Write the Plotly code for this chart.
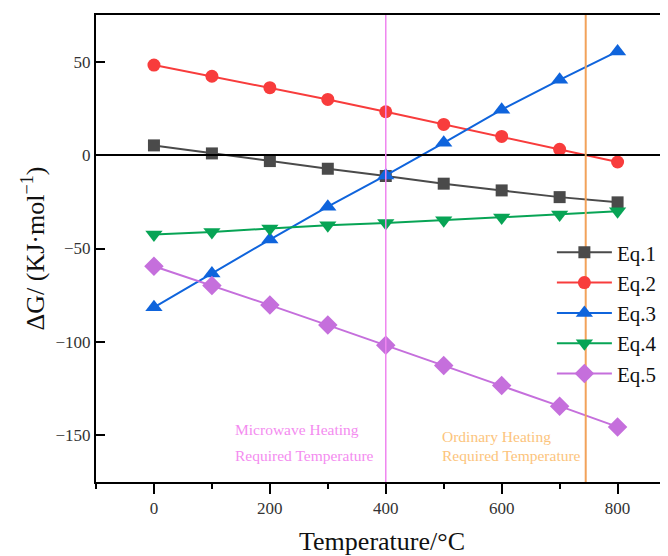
import plotly.graph_objects as go

temps = [0, 100, 200, 300, 400, 500, 600, 700, 800]
eq1 = [5.2, 0.9, -3.2, -7.3, -11.2, -15.3, -18.9, -22.5, -25.3]
eq2 = [48.2, 42.2, 36.1, 29.8, 23.2, 16.4, 10.0, 3.1, -3.7]
eq3 = [-81.5, -63.4, -45.2, -27.6, -10.9, 6.6, 24.3, 40.3, 55.5]
eq4 = [-42.5, -41.2, -39.3, -37.6, -36.4, -34.9, -33.4, -31.8, -30.1]
eq5 = [-59.5, -69.8, -80.3, -91.0, -101.8, -112.6, -123.4, -134.4, -145.5]

names = ["Eq.1", "Eq.2", "Eq.3", "Eq.4", "Eq.5"]
series = [eq1, eq2, eq3, eq4, eq5]
colors = ["#4a4a4a", "#f83c3c", "#0f64dc", "#07a455", "#c56fdc"]
symbols = ["square", "circle", "triangle-up", "triangle-down", "diamond"]
sizes = [12, 13, 15, 15, 15]

microwave_T = 400
ordinary_T = 745

FONT = "Liberation Serif"

fig = go.Figure()
for n, s, c, sym, sz in zip(names, series, colors, symbols, sizes):
    fig.add_trace(go.Scatter(
        x=temps, y=s, name=n, mode="lines+markers",
        line=dict(color=c, width=2),
        marker=dict(symbol=sym, size=sz, color=c),
    ))

# zero line
fig.add_shape(type="line", xref="paper", yref="y", x0=0, x1=1, y0=0, y1=0,
              line=dict(color="black", width=2))
# vertical lines
fig.add_shape(type="line", xref="x", yref="paper", x0=microwave_T, x1=microwave_T, y0=0, y1=1,
              line=dict(color="#ef86ef", width=1.5))
fig.add_shape(type="line", xref="x", yref="paper", x0=ordinary_T, x1=ordinary_T, y0=0, y1=1,
              line=dict(color="#f2a25a", width=2))

ann = [
    ("Microwave Heating", 136, -146.9, "#f48cf0"),
    ("Required Temperature", 136, -160.8, "#f48cf0"),
    ("Ordinary Heating", 493, -150.7, "#fcc47c"),
    ("Required Temperature", 493, -160.8, "#fcc47c"),
]
for t, ax, ay, col in ann:
    fig.add_annotation(x=ax, y=ay, xref="x", yref="y", text=t,
                       showarrow=False, xanchor="left", yanchor="middle",
                       font=dict(family=FONT, size=15.5, color=col))

fig.update_layout(
    width=660, height=548,
    margin=dict(l=88, r=0, t=7, b=74, autoexpand=False),
    paper_bgcolor="white", plot_bgcolor="white",
    font=dict(family=FONT, color="#222"),
    showlegend=True,
    legend=dict(x=0.797, y=0.535, xanchor="left", yanchor="top",
                bgcolor="rgba(255,255,255,0)", font=dict(family=FONT, size=21, color="#111"),
                itemwidth=55),
    xaxis=dict(
        range=[-100, 887], showgrid=False, zeroline=False,
        showline=True, linecolor="black", linewidth=2, mirror=True,
        ticks="outside", ticklen=10, tickwidth=2, tickcolor="black",
        tick0=0, dtick=200,
        minor=dict(ticks="outside", ticklen=5, tickwidth=2, tickcolor="black", dtick=100, tick0=0),
        tickfont=dict(family=FONT, size=17, color="#333"),
        title=dict(text="Temperature/°C", font=dict(family=FONT, size=26, color="#111"), standoff=16),
    ),
    yaxis=dict(
        range=[-175, 75], showgrid=False, zeroline=False,
        showline=True, linecolor="black", linewidth=2,
        ticks="inside", ticklen=9, tickwidth=2, tickcolor="black",
        tick0=0, dtick=50,
        tickfont=dict(family=FONT, size=17, color="#333"),
        title=dict(text="ΔG/ (KJ·mol<sup>−1</sup>)", font=dict(family=FONT, size=26, color="#111"), standoff=3),
    ),
)

fig.write_html("out.html")
